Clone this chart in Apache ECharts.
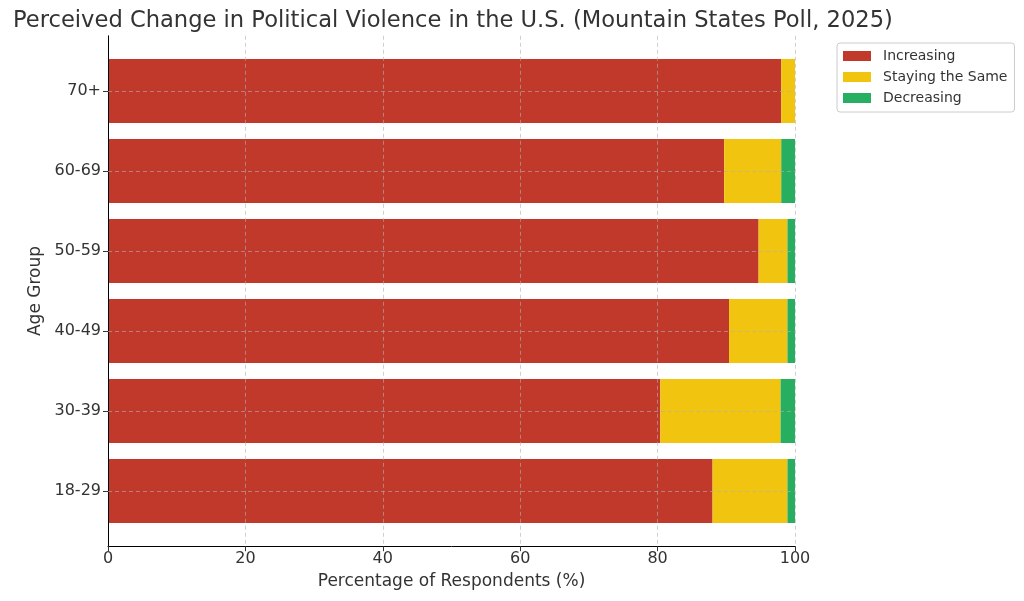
<!DOCTYPE html>
<html>
<head>
<meta charset="utf-8">
<script src="https://cdn.jsdelivr.net/npm/echarts@6/dist/echarts.min.js"></script>
<style>
html,body{margin:0;padding:0;background:#fff;}
#c{width:1024px;height:601px;}
</style>
</head>
<body>
<div id="c"></div>
<script>
const categories = ['18-29', '30-39', '40-49', '50-59', '60-69', '70+'];
const increasing = [88.0, 80.4, 90.4, 94.7, 89.7, 98.0];
const staying = [10.9, 17.5, 8.5, 4.2, 8.3, 2.0];
const decreasing = [1.1, 2.1, 1.1, 1.1, 2.0, 0.0];
const xTicks = [0, 20, 40, 60, 80, 100];

const FONT = 'DejaVu Sans';
const gridColor = 'rgba(176,176,176,0.6)';
const chart = echarts.init(document.getElementById('c'));

function barSeries(name, data, color, extra) {
  return Object.assign({
    name: name, type: 'bar', stack: 'total', data: data,
    xAxisIndex: 0, yAxisIndex: 0, barWidth: '80%',
    itemStyle: {color: color}, z: 2
  }, extra || {});
}

chart.setOption({
  animation: false,
  backgroundColor: '#fff',
  textStyle: {fontFamily: FONT},
  title: {
    text: 'Perceived Change in Political Violence in the U.S. (Mountain States Poll, 2025)',
    left: 8, top: 5,
    textStyle: {fontFamily: FONT, fontSize: 22.6, fontWeight: 'normal', color: '#333'}
  },
  legend: {
    orient: 'vertical', left: 837, top: 43,
    itemWidth: 28, itemHeight: 10, itemGap: 7,
    padding: [6, 7, 7, 6],
    borderColor: '#cccccc', borderWidth: 1, borderRadius: 3,
    icon: 'rect',
    textStyle: {fontFamily: FONT, fontSize: 14, color: '#333', padding: [0, 0, 0, 7]},
    data: ['Increasing', 'Staying the Same', 'Decreasing']
  },
  grid: [
    {left: 108, width: 687, top: 51, height: 480},
    {left: 108, width: 687, top: 35.8, height: 510.4}
  ],
  xAxis: [
    {gridIndex: 0, type: 'value', min: 0, max: 100, show: false},
    {gridIndex: 1, type: 'value', min: 0, max: 100, interval: 20, z: 5,
     axisLine: {show: true, lineStyle: {color: '#000', width: 1}},
     axisTick: {show: true, inside: false, length: 5, lineStyle: {color: '#333'}},
     axisLabel: {fontFamily: FONT, fontSize: 16, color: '#333', margin: 5,
       customValues: xTicks},
     splitLine: {show: true, lineStyle: {type: [4, 3], color: gridColor, width: 1}},
     name: 'Percentage of Respondents (%)', nameLocation: 'middle', nameGap: 27,
     nameTextStyle: {fontFamily: FONT, fontSize: 17, color: '#333'}}
  ],
  yAxis: [
    {gridIndex: 0, type: 'category', data: categories,
     axisLine: {show: false},
     axisTick: {show: true, alignWithLabel: true, length: 5, lineStyle: {color: '#333'}},
     axisLabel: {fontFamily: FONT, fontSize: 16, color: '#333', margin: 7},
     splitLine: {show: false},
     name: 'Age Group', nameLocation: 'middle', nameGap: 62, nameRotate: 90,
     nameTextStyle: {fontFamily: FONT, fontSize: 17, color: '#333'}},
    {gridIndex: 1, type: 'value', min: 0, max: 1, z: 5,
     axisLine: {show: true, lineStyle: {color: '#000', width: 1}},
     axisTick: {show: false}, axisLabel: {show: false}, splitLine: {show: false}}
  ],
  series: [
    barSeries('Increasing', increasing, '#c0392b'),
    barSeries('Staying the Same', staying, '#f1c40f'),
    barSeries('Decreasing', decreasing, '#27ae60', {
      markLine: {
        silent: true, symbol: 'none', label: {show: false}, z: 6,
        lineStyle: {type: [4, 3], color: gridColor, width: 1},
        data: categories.map(c => ({yAxis: c}))
      }
    })
  ]
});
</script>
</body>
</html>
